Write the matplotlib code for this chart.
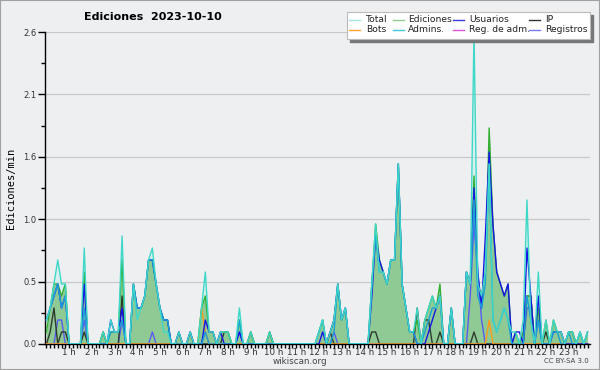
import numpy as np
import matplotlib
matplotlib.use('Agg')
import matplotlib.pyplot as plt
from matplotlib.patches import Rectangle

# edits per minute, one value per 10 minutes (144 slots), two hours per row
total = [
    0.2, 0.3, 0.5, 0.7, 0.5, 0.5, 0, 0, 0, 0, 0.8, 0,
    0, 0, 0, 0.1, 0, 0.2, 0.1, 0.1, 0.9, 0, 0, 0.5,
    0.2, 0.3, 0.4, 0.7, 0.8, 0.5, 0.3, 0.1, 0.1, 0, 0, 0.1,
    0, 0, 0.1, 0, 0, 0.3, 0.6, 0.1, 0.1, 0, 0.1, 0.1,
    0.1, 0, 0, 0.3, 0, 0, 0.1, 0, 0, 0, 0, 0.1,
    0, 0, 0, 0, 0, 0, 0, 0, 0, 0, 0, 0,
    0.1, 0.2, 0, 0.1, 0.2, 0.5, 0.2, 0.3, 0, 0, 0, 0,
    0, 0, 0.5, 1.0, 0.6, 0.6, 0.5, 0.7, 0.7, 1.5, 0.5, 0.3,
    0.1, 0.1, 0.3, 0, 0.2, 0.3, 0.4, 0.3, 0.4, 0, 0, 0.3,
    0, 0, 0, 0.6, 0.5, 2.6, 0.5, 0.4, 0.6, 1.5, 0.2, 0.1,
    0.2, 0.3, 0.2, 0.1, 0.1, 0, 0.2, 1.2, 0.2, 0, 0.6, 0,
    0.2, 0, 0.2, 0.1, 0.1, 0, 0.1, 0.1, 0, 0.1, 0, 0.1,
]
ediciones = [
    0.1, 0.3, 0.5, 0.5, 0.4, 0.5, 0, 0, 0, 0, 0.6, 0,
    0, 0, 0, 0.1, 0, 0.1, 0.1, 0.1, 0.7, 0, 0, 0.5,
    0.3, 0.3, 0.4, 0.7, 0.7, 0.5, 0.3, 0.2, 0.2, 0, 0, 0.1,
    0, 0, 0.1, 0, 0, 0.3, 0.4, 0.1, 0.1, 0, 0.1, 0.1,
    0.1, 0, 0, 0.2, 0, 0, 0.1, 0, 0, 0, 0, 0.1,
    0, 0, 0, 0, 0, 0, 0, 0, 0, 0, 0, 0,
    0.1, 0.2, 0, 0.1, 0.2, 0.5, 0.2, 0.3, 0, 0, 0, 0,
    0, 0, 0.5, 1.0, 0.7, 0.6, 0.5, 0.7, 0.7, 1.5, 0.5, 0.3,
    0.1, 0.1, 0.2, 0, 0.2, 0.3, 0.4, 0.3, 0.5, 0, 0, 0.3,
    0, 0, 0, 0.6, 0.5, 1.4, 0.5, 0.4, 0.6, 1.8, 1.0, 0.6,
    0.5, 0.4, 0.5, 0, 0.1, 0, 0.1, 0.4, 0.4, 0, 0.3, 0,
    0.2, 0, 0.2, 0.1, 0.1, 0, 0.1, 0.1, 0, 0.1, 0, 0.1,
]
usuarios = [
    0.2, 0.3, 0.4, 0.5, 0.3, 0.4, 0, 0, 0, 0, 0.5, 0,
    0, 0, 0, 0, 0, 0.2, 0.1, 0.1, 0.3, 0, 0, 0.5,
    0.3, 0.3, 0.4, 0.7, 0.7, 0.5, 0.3, 0.2, 0.2, 0, 0, 0.1,
    0, 0, 0.1, 0, 0, 0, 0.2, 0.1, 0.1, 0, 0.1, 0,
    0, 0, 0, 0.1, 0, 0, 0, 0, 0, 0, 0, 0,
    0, 0, 0, 0, 0, 0, 0, 0, 0, 0, 0, 0,
    0, 0.1, 0, 0.1, 0.2, 0.5, 0.2, 0.3, 0, 0, 0, 0,
    0, 0, 0.4, 0.9, 0.7, 0.6, 0.5, 0.7, 0.7, 1.5, 0.5, 0.3,
    0.1, 0.1, 0, 0, 0, 0.1, 0.2, 0.3, 0.4, 0, 0, 0.3,
    0, 0, 0, 0.6, 0.5, 1.3, 0.6, 0.3, 0.9, 1.6, 1.0, 0.6,
    0.5, 0.4, 0.5, 0, 0.1, 0.1, 0, 0.8, 0.4, 0, 0.4, 0,
    0, 0, 0.1, 0.1, 0.1, 0, 0, 0, 0, 0, 0, 0,
]
ip = [
    0, 0.1, 0.3, 0, 0.1, 0.1, 0, 0, 0, 0, 0.1, 0,
    0, 0, 0, 0.1, 0, 0, 0, 0, 0.4, 0, 0, 0,
    0, 0, 0, 0, 0, 0, 0, 0, 0, 0, 0, 0,
    0, 0, 0, 0, 0, 0, 0, 0, 0, 0, 0, 0.1,
    0.1, 0, 0, 0, 0, 0, 0.1, 0, 0, 0, 0, 0.1,
    0, 0, 0, 0, 0, 0, 0, 0, 0, 0, 0, 0,
    0, 0, 0, 0.1, 0, 0, 0, 0, 0, 0, 0, 0,
    0, 0, 0.1, 0.1, 0, 0, 0, 0, 0, 0, 0, 0,
    0, 0, 0.3, 0, 0.2, 0.2, 0, 0, 0.1, 0, 0, 0,
    0, 0, 0, 0, 0, 0.1, 0, 0, 0, 0, 0, 0,
    0, 0, 0, 0, 0, 0, 0, 0.4, 0.4, 0, 0, 0,
    0.1, 0, 0, 0, 0, 0, 0.1, 0.1, 0, 0, 0, 0,
]
bots = [0] * 144
bots[41] = 0.3
bots[42] = 0.1
bots[117] = 0.2
admins = [
    0.2, 0.3, 0.4, 0.5, 0.3, 0.4, 0, 0, 0, 0, 0.3, 0,
    0, 0, 0, 0, 0, 0.1, 0.1, 0.1, 0.2, 0, 0, 0.5,
    0.3, 0.3, 0.4, 0.7, 0.7, 0.5, 0.3, 0.2, 0.2, 0, 0, 0,
    0, 0, 0, 0, 0, 0, 0.1, 0, 0, 0, 0, 0,
    0, 0, 0, 0.2, 0, 0, 0, 0, 0, 0, 0, 0,
    0, 0, 0, 0, 0, 0, 0, 0, 0, 0, 0, 0,
    0.1, 0.2, 0, 0, 0.1, 0.5, 0.2, 0.3, 0, 0, 0, 0,
    0, 0, 0.5, 0.9, 0.6, 0.6, 0.5, 0.7, 0.7, 1.5, 0.5, 0.3,
    0.1, 0.1, 0, 0, 0.1, 0.2, 0.3, 0.3, 0.4, 0, 0, 0.3,
    0, 0, 0, 0.6, 0.5, 1.2, 0.4, 0.3, 0.5, 1.5, 0.2, 0.1,
    0.2, 0.3, 0.2, 0, 0, 0, 0, 0.4, 0.2, 0, 0.2, 0,
    0, 0, 0.1, 0.1, 0, 0, 0.1, 0, 0, 0.1, 0, 0.1,
]
reg_adm = [0] * 144
registros = [0] * 144
for k, v in [(3, 0.2), (4, 0.2), (10, 0.2), (20, 0.2), (28, 0.1), (42, 0.1),
             (51, 0.1), (76, 0.1), (112, 0.4), (113, 1.0), (114, 0.6),
             (115, 0.2), (127, 0.3), (128, 0.3), (130, 0.2)]:
    registros[k] = v

hour_labels = [f'{h} h' for h in range(1, 24)]

BG = '#eeeff1'
t = np.arange(144)

fig = plt.figure(figsize=(6, 3.7), dpi=100, facecolor=BG)
ax = fig.add_axes([0.075, 0.0703, 0.908, 0.8432], facecolor=BG)

ax.fill_between(t, total, color='#c8f2ec', alpha=0.6, lw=0, zorder=1)
ax.fill_between(t, ediciones, color='#8fca94', lw=0, zorder=2)
lw = 1.0
ax.plot(t, reg_adm, color='#e040e0', lw=lw, zorder=3)
ax.plot(t, registros, color='#5a5af0', lw=lw, zorder=3)
ax.plot(t, ip, color='#2d3a2d', lw=lw, zorder=4)
ax.plot(t, bots, color='#ff9a1a', lw=lw, zorder=4)
ax.plot(t, ediciones, color='#33b033', lw=lw, zorder=5)
ax.plot(t, usuarios, color='#1414e6', lw=lw, zorder=6)
ax.plot(t, admins, color='#1aa0d8', lw=lw, zorder=7)
ax.plot(t, total, color='#3ed8c8', lw=lw, zorder=8)

ax.set_xlim(-0.37, 143.6)
ax.set_ylim(0, 2.6)

yt = [0, 0.52, 1.04, 1.56, 2.08, 2.6]
ax.set_yticks(yt)
ax.set_yticklabels([f'{v:.1f}' for v in yt])
ax.set_yticks([0.26, 0.78, 1.3, 1.82, 2.34], minor=True)
ax.set_xticks([6 * h for h in range(1, 24)])
ax.set_xticklabels(hour_labels)
ax.set_xticks(np.arange(0, 144), minor=True)
ax.grid(axis='y', color='#c8c8c8', lw=0.9)
ax.set_axisbelow(True)

for s in ['top', 'right']:
    ax.spines[s].set_visible(False)
for s in ['left', 'bottom']:
    ax.spines[s].set_color('black')
    ax.spines[s].set_linewidth(1.0)
ax.tick_params(axis='y', which='major', length=5, width=1, labelsize=6,
               labelcolor='#333333', pad=1)
ax.tick_params(axis='y', which='minor', length=3, width=1)
ax.tick_params(axis='x', which='major', length=3, width=1, labelsize=6.3,
               labelcolor='#333333', pad=0)
ax.tick_params(axis='x', which='minor', length=3, width=1)

ax.set_ylabel('Ediciones/min', family='DejaVu Sans Mono', fontsize=7.5, labelpad=5)
fig.text(0.255, 0.953, 'Ediciones  2023-10-10', ha='center', va='center',
         fontsize=8, fontweight='bold')
fig.text(0.5, 0.024, 'wikiscan.org', ha='center', va='center', fontsize=6.3,
         color='#444444')
fig.text(0.982, 0.024, 'CC BY-SA 3.0', ha='right', va='center', fontsize=5,
         color='#444444')

# legend box with shadow
names = ['Total', 'Ediciones', 'Usuarios', 'IP',
         'Bots', 'Admins.', 'Reg. de adm.', 'Registros']
colors = ['#a8e2e0', '#8fd08f', '#3a3ad8', '#333333',
          '#ffa030', '#40c8d8', '#e050e0', '#7a7af0']
W, H = 600, 370
lx0, ly0, lw_, lh_ = 347, 12, 243, 27
fig.patches.append(Rectangle(((lx0 + 3) / W, 1 - (ly0 + lh_ + 3) / H), lw_ / W, lh_ / H,
                             transform=fig.transFigure, color='#777777', zorder=9))
fig.patches.append(Rectangle((lx0 / W, 1 - (ly0 + lh_) / H), lw_ / W, lh_ / H,
                             transform=fig.transFigure, facecolor='white',
                             edgecolor='#bbbbbb', lw=0.8, zorder=10))
line_x = [349, 393, 453, 529]
text_x = [366, 408, 469, 545]
row_y = [19.5, 29.5]
for n, (name, c) in enumerate(zip(names, colors)):
    y = row_y[n // 4]
    x = line_x[n % 4]
    fig.add_artist(plt.Line2D([x / W, (x + 11) / W], [1 - y / H, 1 - y / H],
                              transform=fig.transFigure, color=c, lw=1.0, zorder=11))
    fig.text(text_x[n % 4] / W, 1 - y / H, name, ha='left', va='center',
             fontsize=6.6, color='#222222', zorder=12)

fig.patches.append(Rectangle((0, 0), 1, 1, transform=fig.transFigure, fill=False,
                             edgecolor='#a0a0a0', lw=1.5, zorder=20))

fig.savefig('out.png', dpi=100, facecolor=BG)
